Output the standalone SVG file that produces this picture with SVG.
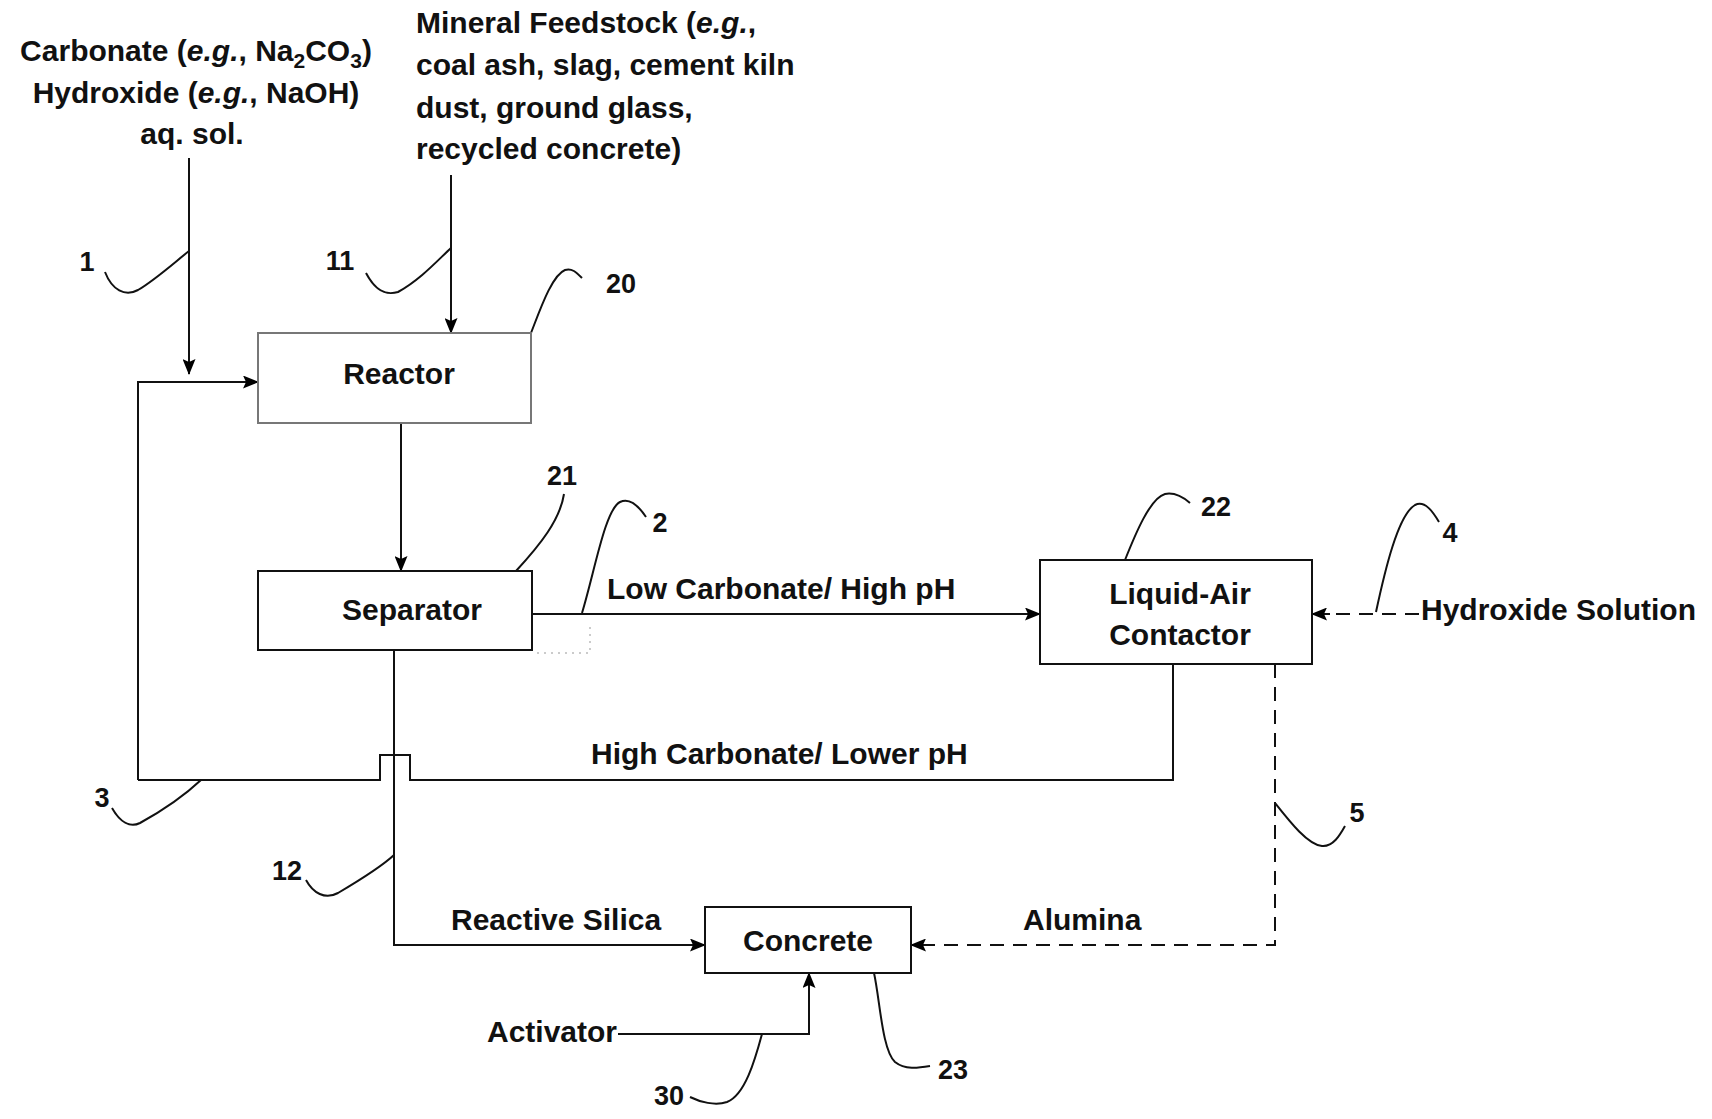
<svg xmlns="http://www.w3.org/2000/svg" width="1712" height="1119" viewBox="0 0 1712 1119">
<defs>
<marker id="ah" markerWidth="16" markerHeight="13" refX="15" refY="6.5" orient="auto" markerUnits="userSpaceOnUse">
<path d="M0,0 L16,6.5 L0,13 L3,6.5 Z" fill="#000"/>
</marker>
<style>
.t{font-family:"Liberation Sans",Arial,sans-serif;font-weight:bold;font-size:30px;fill:#111}
.n{font-family:"Liberation Sans",Arial,sans-serif;font-weight:bold;font-size:27px;fill:#111}
.box{fill:#fff;stroke:#111;stroke-width:2}
.ln{fill:none;stroke:#111;stroke-width:2}
.ar{fill:none;stroke:#111;stroke-width:2;marker-end:url(#ah)}
.dash{fill:none;stroke:#111;stroke-width:2;stroke-dasharray:14 9}
.ld{fill:none;stroke:#111;stroke-width:2}
.faint{fill:none;stroke:#bbb;stroke-width:1.5;stroke-dasharray:2 5}
</style>
</defs>
<rect width="1712" height="1119" fill="#fff"/>

<g id="inputs-text">
<text class="t" x="196" y="61" text-anchor="middle">Carbonate (<tspan font-style="italic">e.g.</tspan>, Na<tspan font-size="21" dy="7">2</tspan><tspan dy="-7">CO</tspan><tspan font-size="21" dy="7">3</tspan><tspan dy="-7">)</tspan></text>
<text class="t" x="196" y="103" text-anchor="middle">Hydroxide (<tspan font-style="italic">e.g.</tspan>, NaOH)</text>
<text class="t" x="192" y="144" text-anchor="middle">aq. sol.</text>
<text class="t" x="416" y="33">Mineral Feedstock (<tspan font-style="italic">e.g.</tspan>,</text>
<text class="t" x="416" y="75">coal ash, slag, cement kiln</text>
<text class="t" x="416" y="118">dust, ground glass,</text>
<text class="t" x="416" y="159">recycled concrete)</text>
</g>

<g id="connectors">
<path class="ar" d="M189,158 L189,374"/>
<path class="ar" d="M451,175 L451,333"/>
<path class="ar" d="M138,780 L138,382 L258,382"/>
<path class="ar" d="M401,423 L401,571"/>
<path class="ar" d="M532,614 L1040,614"/>
<path class="dash" d="M1419,614 L1326,614"/>
<path class="ar" d="M1330,614 L1312,614"/>
<path class="ln" d="M1173,664 L1173,780 L410,780 L410,755 L380,755 L380,780 L138,780"/>
<path class="ar" d="M394,650 L394,945 L705,945"/>
<path class="dash" d="M1275,664 L1275,945 L925,945"/>
<path class="ar" d="M930,945 L911,945"/>
<path class="ar" d="M618,1034 L809,1034 L809,973"/>
<path class="faint" d="M590,627 L590,653 L532,653"/>
</g>

<g id="leaders">
<path class="ld" d="M105,272 C112,290 125,297 138,290 C155,280 175,262 189,251"/>
<path class="ld" d="M366,273 C375,290 385,296 398,292 C420,280 438,260 451,248"/>
<path class="ld" d="M531,333 C540,310 552,275 565,270 C572,268 576,272 582,278"/>
<path class="ld" d="M516,571 C540,545 560,520 564,494"/>
<path class="ld" d="M582,613 C595,570 605,510 620,502 C630,497 640,508 646,517"/>
<path class="ld" d="M1125,560 C1135,535 1150,498 1165,494 C1175,492 1183,497 1190,503"/>
<path class="ld" d="M1376,612 C1385,570 1398,515 1415,505 C1425,500 1433,512 1439,522"/>
<path class="ld" d="M1275,803 C1290,822 1308,845 1322,846 C1333,847 1340,835 1345,826"/>
<path class="ld" d="M112,808 C120,822 130,828 140,823 C160,812 185,795 201,780"/>
<path class="ld" d="M306,880 C313,893 325,900 338,893 C360,880 380,868 394,855"/>
<path class="ld" d="M762,1034 C755,1060 745,1095 727,1102 C715,1106 700,1102 690,1097"/>
<path class="ld" d="M874,973 C880,1000 882,1050 895,1062 C905,1070 918,1068 930,1066"/>
</g>

<g id="reactor">
<rect x="258" y="333" width="273" height="90" fill="#fff" stroke="#777" stroke-width="2"/>
<text class="t" x="399" y="384" text-anchor="middle">Reactor</text>
</g>
<g id="separator">
<rect class="box" x="258" y="571" width="274" height="79"/>
<text class="t" x="412" y="620" text-anchor="middle">Separator</text>
</g>
<g id="contactor">
<rect class="box" x="1040" y="560" width="272" height="104"/>
<text class="t" x="1180" y="604" text-anchor="middle">Liquid-Air</text>
<text class="t" x="1180" y="645" text-anchor="middle">Contactor</text>
</g>
<g id="concrete">
<rect class="box" x="705" y="907" width="206" height="66"/>
<text class="t" x="808" y="951" text-anchor="middle">Concrete</text>
</g>

<g id="labels">
<text class="t" x="607" y="599">Low Carbonate/ High pH</text>
<text class="t" x="1421" y="620">Hydroxide Solution</text>
<text class="t" x="591" y="764">High Carbonate/ Lower pH</text>
<text class="t" x="451" y="930">Reactive Silica</text>
<text class="t" x="1023" y="930">Alumina</text>
<text class="t" x="487" y="1042">Activator</text>
</g>

<g id="refnums">
<text class="n" x="87" y="271" text-anchor="middle">1</text>
<text class="n" x="340" y="270" text-anchor="middle">11</text>
<text class="n" x="621" y="293" text-anchor="middle">20</text>
<text class="n" x="562" y="485" text-anchor="middle">21</text>
<text class="n" x="660" y="532" text-anchor="middle">2</text>
<text class="n" x="1216" y="516" text-anchor="middle">22</text>
<text class="n" x="1450" y="542" text-anchor="middle">4</text>
<text class="n" x="102" y="807" text-anchor="middle">3</text>
<text class="n" x="1357" y="822" text-anchor="middle">5</text>
<text class="n" x="287" y="880" text-anchor="middle">12</text>
<text class="n" x="669" y="1105" text-anchor="middle">30</text>
<text class="n" x="953" y="1079" text-anchor="middle">23</text>
</g>
</svg>
